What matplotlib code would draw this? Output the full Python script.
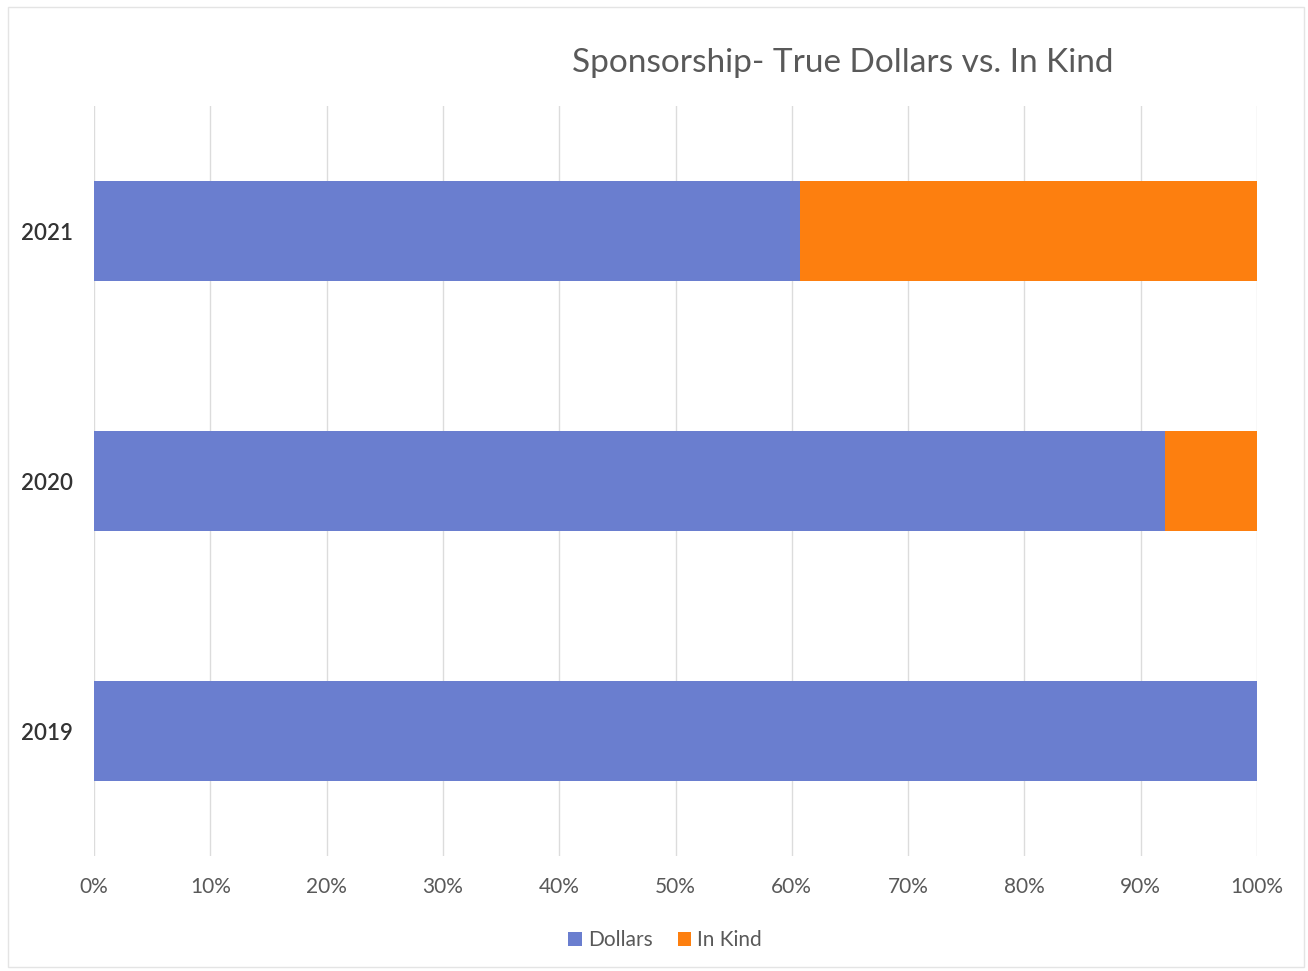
import matplotlib

matplotlib.use("Agg")
import matplotlib.pyplot as plt
import numpy as np
from matplotlib.patches import Rectangle
from matplotlib.ticker import PercentFormatter

plt.rcParams["font.family"] = ["Lato", "DejaVu Sans"]

years = ["2019", "2020", "2021"]
dollars = [100.0, 92.1, 60.7]
in_kind = [0.0, 7.9, 39.3]

BLUE = "#6a7ecf"
ORANGE = "#fd7f0f"
GREY_TXT = "#595959"

fig = plt.figure(figsize=(13.08, 9.71), dpi=100)
ax = fig.add_axes([94 / 1308, 115 / 971, (1257 - 94) / 1308, 750 / 971])

y = np.arange(len(years))
ax.barh(y, dollars, height=0.4, color=BLUE, label="Dollars", zorder=3)
ax.barh(y, in_kind, left=dollars, height=0.4, color=ORANGE, label="In Kind", zorder=3)

ax.set_xlim(0, 100)
ax.set_ylim(-0.5, len(years) - 0.5)
ax.set_xticks(np.arange(0, 101, 10))
ax.xaxis.set_major_formatter(PercentFormatter(decimals=0))
ax.set_yticks(y)
ax.set_yticklabels(years)
ax.grid(axis="x", color="#dcdcdc", lw=1, zorder=0)
for s in ax.spines.values():
    s.set_visible(False)
ax.tick_params(axis="x", length=0, pad=15, labelsize=15, labelcolor=GREY_TXT)
ax.tick_params(axis="y", length=0, pad=15, labelsize=16, labelcolor="#333333")
for lbl in ax.get_yticklabels():
    lbl.set_fontweight("semibold")

fig.text(843 / 1308, 1 - 63 / 971, "Sponsorship- True Dollars vs. In Kind",
         ha="center", va="center", fontsize=24, color=GREY_TXT)

leg = fig.legend(loc="center", bbox_to_anchor=(665 / 1308, 1 - 940 / 971), ncol=2,
                 frameon=False, fontsize=15, handlelength=0.65, handleheight=0.65,
                 handletextpad=0.3, columnspacing=1.2)
for t in leg.get_texts():
    t.set_color(GREY_TXT)

# thin frame round the whole chart area
fig.patches.append(Rectangle((8 / 1308, 4 / 971), 1296 / 1308, 960 / 971,
                             transform=fig.transFigure, fill=False,
                             edgecolor="#e4e4e4", lw=1))

fig.savefig("out.png", dpi=100)
